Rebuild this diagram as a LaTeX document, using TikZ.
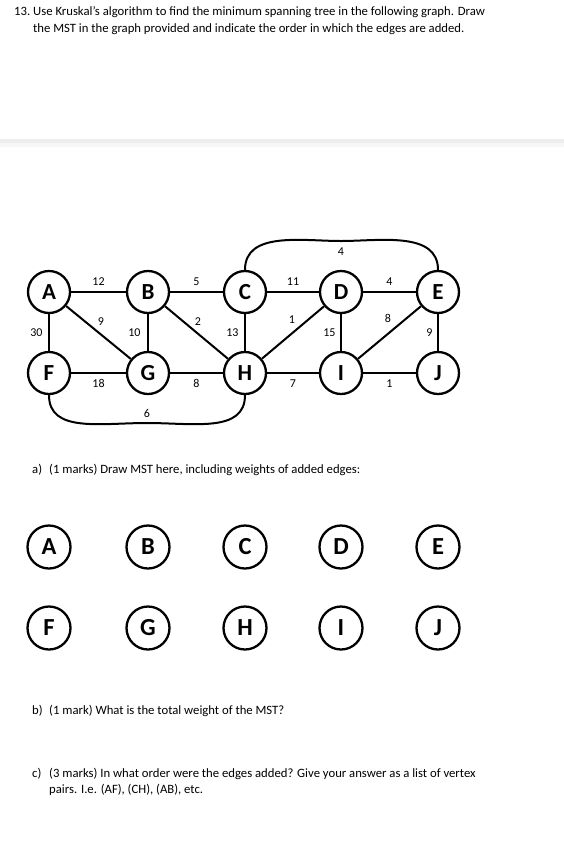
\documentclass[tikz,border=0pt]{standalone}
\usepackage{fontspec}
\setmainfont{Carlito}
\begin{document}
\begin{tikzpicture}[x=1pt,y=-1pt,
  vtx/.style={circle,draw,line width=2.3pt,minimum size=42pt,inner sep=0pt,
    font=\fontsize{23}{23}\selectfont\bfseries},
  blank/.style={vtx,minimum size=43pt,font=\fontsize{24.5}{24.5}\selectfont\bfseries},
  wt/.style={font=\fontsize{12}{12}\selectfont,inner sep=1.5pt},
  edge/.style={line width=2pt},
  txt/.style={anchor=base west,inner sep=0pt,font=\fontsize{12.7}{15}\selectfont}]
  \useasboundingbox (0,0) rectangle (564,863);
  % Question text
  \node[txt] (qnum) at (14,15.5) {13.};
  \node[txt] (qone) at (33,15.5) {Use Kruskal’s algorithm to find the minimum spanning tree in the following graph. Draw};
  \node[txt] (qtwo) at (33,32) {the MST in the graph provided and indicate the order in which the edges are added.};
  % Grey page break
  \fill[gray!14] (0,139) rectangle (564,143);
  \fill[gray!6] (0,143) rectangle (564,147);
  % Graph vertices
  \node[vtx] (A) at (49,292) {A};
  \node[vtx] (B) at (148,292) {B};
  \node[vtx] (C) at (245,292) {C};
  \node[vtx] (D) at (341,292) {D};
  \node[vtx] (E) at (438,292) {E};
  \node[vtx] (F) at (49,373) {F};
  \node[vtx] (G) at (148,373) {G};
  \node[vtx] (H) at (245,373) {H};
  \node[vtx] (I) at (341,373) {I};
  \node[vtx] (J) at (438,373) {J};
  % Horizontal edges
  \draw[edge] (A) -- node[wt,above=4pt] {12} (B);
  \draw[edge] (B) -- node[wt,above=4pt] {5} (C);
  \draw[edge] (C) -- node[wt,above=4pt] {11} (D);
  \draw[edge] (D) -- node[wt,above=4pt] {4} (E);
  \draw[edge] (F) -- node[wt,below=4pt] {18} (G);
  \draw[edge] (G) -- node[wt,below=4pt] {8} (H);
  \draw[edge] (H) -- node[wt,below=4pt] {7} (I);
  \draw[edge] (I) -- node[wt,below=4pt] {1} (J);
  % Vertical edges
  \draw[edge] (A) -- node[wt,left=4pt] {30} (F);
  \draw[edge] (B) -- node[wt,left=5pt] {10} (G);
  \draw[edge] (C) -- node[wt,left=4pt] {13} (H);
  \draw[edge] (D) -- node[wt,left=3pt] {15} (I);
  \draw[edge] (E) -- node[wt,left=3pt] {9} (J);
  % Diagonal edges
  \draw[edge] (A) -- node[wt,above=5pt,xshift=2.5pt] {9} (G);
  \draw[edge] (B) -- node[wt,above=5pt,xshift=1.5pt] {2} (H);
  \draw[edge] (H) -- node[wt,above=7pt,xshift=-1pt] {1} (D);
  \draw[edge] (I) -- node[wt,above=7pt,xshift=-1.5pt] {8} (E);
  % Curved edges
  \coordinate (ctop) at (341,241);
  \coordinate (fbot) at (147,423);
  \draw[edge] (C.north) .. controls (245,231) and (302,241) .. (ctop)
    .. controls (380,241) and (438,231) .. (E.north);
  \node[wt] (wce) at (341,252) {4};
  \draw[edge] (F.south) .. controls (49,433) and (100,423) .. (fbot)
    .. controls (194,423) and (245,433) .. (H.south);
  \node[wt] (wfh) at (147,413) {6};
  % Part a
  \node[txt] (pa) at (32,473.5) {a)};
  \node[txt] (pat) at (49,473.5) {(1 marks) Draw MST here, including weights of added edges:};
  \node[blank] (A2) at (49,547) {A};
  \node[blank] (B2) at (148,547) {B};
  \node[blank] (C2) at (245,547) {C};
  \node[blank] (D2) at (341,547) {D};
  \node[blank] (E2) at (438,547) {E};
  \node[blank] (F2) at (49,628) {F};
  \node[blank] (G2) at (148,628) {G};
  \node[blank] (H2) at (245,628) {H};
  \node[blank] (I2) at (341,628) {I};
  \node[blank] (J2) at (438,628) {J};
  % Parts b and c
  \node[txt] (pb) at (32,714) {b)};
  \node[txt] (pbt) at (49,714) {(1 mark) What is the total weight of the MST?};
  \node[txt] (pc) at (32,777) {c)};
  \node[txt] (pct) at (49,777) {(3 marks) In what order were the edges added? Give your answer as a list of vertex};
  \node[txt] (pct2) at (49,793) {pairs. I.e. (AF), (CH), (AB), etc.};
\end{tikzpicture}
\end{document}
